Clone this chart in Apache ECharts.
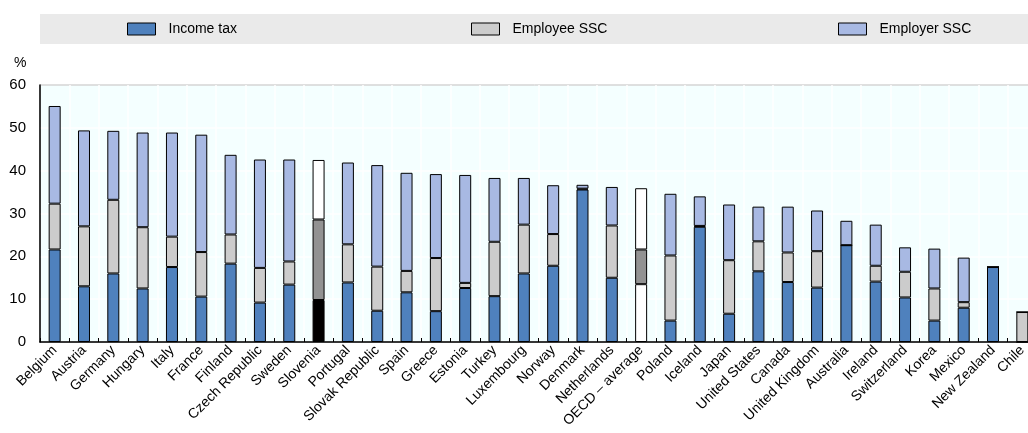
<!DOCTYPE html>
<html>
<head>
<meta charset="utf-8">
<script src="https://cdn.jsdelivr.net/npm/echarts@6/dist/echarts.min.js"></script>
<style>
html,body{margin:0;padding:0;background:#fff;}
#main{width:1028px;height:433px;}
</style>
</head>
<body>
<div id="main"></div>
<script>
const categories = ["Belgium","Austria","Germany","Hungary","Italy","France","Finland","Czech Republic","Sweden","Slovenia","Portugal","Slovak Republic","Spain","Greece","Estonia","Turkey","Luxembourg","Norway","Denmark","Netherlands","OECD - average","Poland","Iceland","Japan","United States","Canada","United Kingdom","Australia","Ireland","Switzerland","Korea","Mexico","New Zealand","Chile"];
const incomeTax = [21.6,13.0,16.0,12.5,17.5,10.6,18.3,9.2,13.4,9.8,13.9,7.3,11.6,7.2,12.6,10.7,16.0,17.8,35.6,15.0,13.5,5.0,26.9,6.6,16.5,14.0,12.7,22.6,14.1,10.4,5.0,8.0,17.5,0];
const employeeSSC = [10.7,14.0,17.2,14.3,7.1,10.4,6.8,8.1,5.4,18.8,8.9,10.3,5.0,12.4,1.2,12.7,11.4,7.4,0.2,12.2,8.1,15.2,0.2,12.5,7.0,6.9,8.5,0,3.7,6.0,7.5,1.3,0,7.0];
const employerSSC = [22.8,22.4,16.1,22.1,24.3,27.4,18.6,25.3,23.8,13.9,19.1,23.7,22.9,19.6,25.2,14.9,10.9,11.4,0.9,9.0,14.3,14.4,6.9,13.0,8.1,10.7,9.5,5.7,9.6,5.7,9.3,10.4,0,0];
const legendNames = ["Income tax","Employee SSC","Employer SSC"];

const FONT = "'Liberation Sans',Arial,sans-serif";
const colors = ["#4F81BD","#CCCCCC","#A8B9E3"];
const special = {
  "Slovenia": ["#000000","#929292","#FFFFFF"],
  "OECD - average": ["#FFFFFF","#929292","#FFFFFF"]
};
function mk(vals, k){
  return vals.map((v,i)=>{
    const sp = special[categories[i]];
    return sp ? {value:v, itemStyle:{color:sp[k]}} : v;
  });
}
const seriesVals = [incomeTax, employeeSSC, employerSSC];
const chart = echarts.init(document.getElementById('main'), null, {renderer:'canvas'});
chart.setOption({
  animation:false,
  textStyle:{fontFamily:FONT},
  graphic:[
    {type:'rect', shape:{x:40,y:14,width:988,height:30}, style:{fill:'#EAEAEA'}, z:-1},
    {type:'text', left:14, top:56, style:{text:'%', font:'14px '+FONT, fill:'#000'}}
  ],
  legend: legendNames.map((n,i)=>({
    data:[n], left:[127,471,838][i], top:22, padding:0, itemWidth:28, itemHeight:12,
    icon:'rect',
    itemStyle:{borderColor:'#000', borderWidth:1},
    textStyle:{fontSize:14, fontFamily:FONT, color:'#000', padding:[0,0,0,8]},
    selectedMode:false
  })),
  grid:{left:40, top:85, width:997, height:257, outerBoundsMode:'none', containLabel:false,
    show:true, backgroundColor:'#F4FFFF', borderColor:'#000', borderWidth:1},
  xAxis:{
    type:'category', data:categories,
    axisLine:{lineStyle:{color:'#000', width:1.5}},
    axisTick:{show:true, inside:true, length:4, interval:0, lineStyle:{color:'#000'}},
    splitLine:{show:true, interval:0, lineStyle:{color:'#FFFFFF', width:1.5}},
    axisLabel:{interval:0, rotate:45, fontSize:14, fontFamily:FONT, color:'#000', margin:6,
      formatter:v=>v.replace('OECD - average','OECD – average')}
  },
  yAxis:{
    type:'value', min:0, max:60, interval:10,
    axisLine:{show:true, lineStyle:{color:'#000', width:1.5}},
    axisTick:{show:false},
    splitLine:{show:true, lineStyle:{color:'#FFFFFF', width:1.5}},
    axisLabel:{fontSize:15, fontFamily:FONT, color:'#000', margin:14}
  },
  series: legendNames.map((n,k)=>({
    name:n, type:'bar', stack:'t', barWidth:12,
    itemStyle:{color:colors[k], borderColor:'#000', borderWidth:1},
    data: mk(seriesVals[k], k)
  }))
});
</script>
</body>
</html>
